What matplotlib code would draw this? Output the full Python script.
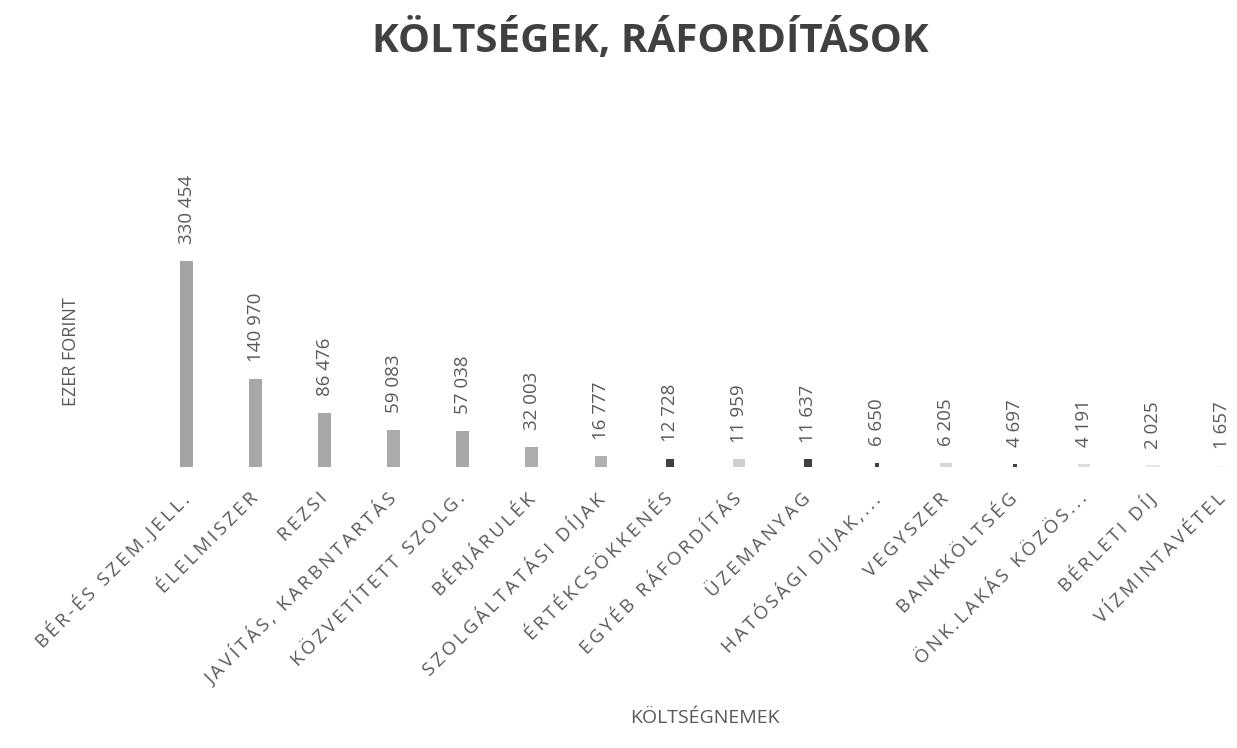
import matplotlib
matplotlib.use("Agg")
import matplotlib.pyplot as plt
import numpy as np

plt.rcParams['font.family'] = ['Open Sans', 'DejaVu Sans']

categories = ["BÉR-ÉS SZEM.JELL.", "ÉLELMISZER", "REZSI", "JAVÍTÁS, KARBNTARTÁS",
              "KÖZVETÍTETT SZOLG.", "BÉRJÁRULÉK", "SZOLGÁLTATÁSI DÍJAK", "ÉRTÉKCSÖKKENÉS",
              "EGYÉB RÁFORDÍTÁS", "ÜZEMANYAG", "HATÓSÁGI DÍJAK,...", "VEGYSZER",
              "BANKKÖLTSÉG", "ÖNK.LAKÁS KÖZÖS...", "BÉRLETI DÍJ", "VÍZMINTAVÉTEL"]
values = [330454, 140970, 86476, 59083, 57038, 32003, 16777, 12728,
          11959, 11637, 6650, 6205, 4697, 4191, 2025, 1657]

# scanned look: bar shades and widths differ a bit
bar_colors = ["#a3a3a3", "#a8a8a8", "#a8a8a8", "#ababab", "#a8a8a8", "#adadad", "#b0b0b0",
              "#404040", "#cfcfcf", "#404040", "#404040", "#d6d6d6", "#404040", "#dedede",
              "#e6e6e6", "#f4f4f4"]
bar_widths = [0.19, 0.19, 0.19, 0.19, 0.19, 0.19, 0.17, 0.12, 0.17, 0.12, 0.05, 0.17,
              0.05, 0.17, 0.2, 0.17]

text_col = "#595959"


def spaced(s, sep="\u2009"):
    # Excel-like letter spacing
    return sep.join(s)


fig = plt.figure(figsize=(12.37, 7.48), dpi=100)
ax = fig.add_axes([0.123, 0.376, 0.893, 0.292])

x = np.arange(len(categories))
ax.bar(x, values, width=bar_widths, color=bar_colors)

for xi, v in zip(x, values):
    ax.annotate(f"{v:,}".replace(",", " "), (xi, v), xytext=(0, 12),
                textcoords="offset points", rotation=90, ha="center", va="bottom",
                fontsize=13.5, color=text_col)

ax.set_xlim(-0.5, len(categories) - 0.5)
ax.set_ylim(0, 350000)
ax.set_xticks(x)
ax.set_xticklabels([spaced(c) for c in categories], rotation=45, ha="right", va="center",
                   rotation_mode="anchor", fontsize=13.5, color=text_col)
ax.tick_params(axis="x", length=0, pad=21)
ax.set_yticks([])
for s in ax.spines.values():
    s.set_visible(False)

fig.text(0.526, 0.947, "KÖLTSÉGEK, RÁFORDÍTÁSOK", ha="center", va="center",
         fontsize=29, fontweight="bold", color="#404040")
fig.text(0.057, 0.53, "EZER FORINT", rotation=90, ha="center", va="center",
         fontsize=13, color=text_col)
fig.text(0.57, 0.04, "KÖLTSÉGNEMEK", ha="center", va="center",
         fontsize=14, color=text_col)

fig.savefig("out.png", dpi=100)
